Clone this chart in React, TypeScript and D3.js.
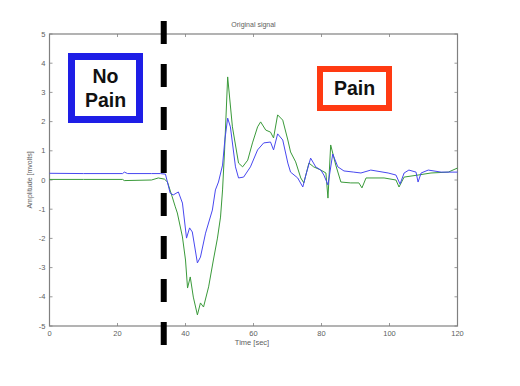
import React from "react";
import * as d3 from "d3";

const blueT = [0, 10, 21.5, 22, 23, 30, 32.6, 34.1, 35.5, 36.4, 37.9, 39.1, 40.3, 41.2, 42.0, 43.5, 44.4, 45.9, 47.9, 48.8, 49.7, 50.9, 51.6, 52.4, 53.2, 54.7, 55.6, 57.1, 59.1, 61.2, 63.0, 65.0, 65.9, 67.1, 68.6, 70.1, 70.9, 73.0, 74.5, 75.4, 76.8, 78.3, 79.8, 80.7, 81.9, 83.3, 84.8, 86.6, 89.5, 91.6, 94.5, 99.6, 101.9, 103.1, 104.3, 105.7, 107.8, 108.4, 109.3, 111.4, 115.2, 120];
const blueV = [0.23, 0.22, 0.22, 0.27, 0.22, 0.22, 0.22, 0.2, -0.45, -0.51, -0.41, -0.79, -1.99, -1.64, -1.78, -2.84, -2.64, -1.82, -1.03, -0.34, -0.07, 0.51, 1.4, 2.12, 1.82, 0.45, 0.07, 0.1, 0.45, 1.03, 1.27, 1.3, 1.03, 1.58, 1.37, 0.58, 0.27, 0.07, -0.24, 0.17, 0.75, 0.45, 0.34, 0.17, -0.17, 0.89, 0.45, 0.31, 0.27, 0.24, 0.34, 0.24, 0.17, -0.14, 0.24, 0.34, 0.27, -0.07, 0.24, 0.34, 0.27, 0.27];

const greenT = [0, 10, 21.5, 22, 30, 32, 33.8, 34.7, 36.1, 37.0, 37.6, 39.1, 40.0, 40.6, 41.4, 42.3, 43.5, 44.4, 45.3, 46.8, 48.2, 49.4, 50.3, 50.9, 51.5, 52.4, 53.8, 55.6, 56.8, 58.3, 59.7, 61.2, 62.1, 63.6, 65.0, 65.9, 67.1, 68.6, 70.1, 70.9, 72.4, 73.9, 74.8, 76.3, 77.7, 79.8, 81.3, 81.9, 82.7, 84.2, 85.7, 88.6, 91.0, 91.9, 93.1, 98.4, 101.9, 102.8, 104.3, 108.4, 112.2, 117.3, 120];
const greenV = [0.02, 0.02, 0.02, -0.02, 0.0, 0.07, 0.03, -0.07, -0.58, -0.92, -1.13, -1.95, -2.74, -3.7, -3.32, -4.01, -4.62, -4.21, -4.35, -3.66, -2.74, -1.99, -1.27, -0.34, 1.03, 3.53, 1.82, 0.58, 0.45, 0.68, 1.27, 1.82, 1.99, 1.71, 1.64, 1.44, 2.23, 2.05, 1.37, 0.96, 0.62, 0.07, -0.1, 0.58, 0.45, 0.34, 0.24, -0.62, 1.2, 0.51, -0.07, -0.1, -0.1, -0.27, 0.07, 0.07, 0.0, -0.24, 0.1, 0.17, 0.24, 0.27, 0.41];

const xTicks = [0, 20, 40, 60, 80, 100, 120];
const yTicks = [5, 4, 3, 2, 1, 0, -1, -2, -3, -4, -5];
const painOnset = 33.6;

export default function App() {
  const W = 520, H = 386;
  const x = d3.scaleLinear().domain([0, 120]).range([49.5, 457.5]);
  const y = d3.scaleLinear().domain([-5, 5]).range([326, 34]);
  const line = d3.line<[number, number]>().x((d) => x(d[0])).y((d) => y(d[1]));
  const blue = line(blueT.map((t, i) => [t, blueV[i]]) as [number, number][]) || "";
  const green = line(greenT.map((t, i) => [t, greenV[i]]) as [number, number][]) || "";
  const axisColor = "#808080";
  const textColor = "#606060";
  const font = "Liberation Sans, Arial, sans-serif";
  const x0 = x(0), x1 = x(120), y0 = y(-5), y1 = y(5);
  return (
    <svg width={W} height={H} style={{ position: "absolute", left: 0, top: 0, background: "#fff" }}>
      <rect x={0} y={0} width={W} height={H} fill="#fff" />
      <rect x={x0} y={y1} width={x1 - x0} height={y0 - y1} fill="none" stroke={axisColor} strokeWidth={1.2} />
      {xTicks.map((t) => (
        <g key={"x" + t}>
          <line x1={x(t)} x2={x(t)} y1={y0} y2={y0 - 3} stroke={axisColor} strokeWidth={0.8} />
          <line x1={x(t)} x2={x(t)} y1={y1} y2={y1 + 3} stroke={axisColor} strokeWidth={0.8} />
          <text x={x(t)} y={y0 + 10} fontSize={7.5} fill={textColor} textAnchor="middle" fontFamily={font}>{t}</text>
        </g>
      ))}
      {yTicks.map((t) => (
        <g key={"y" + t}>
          <line x1={x0} x2={x0 + 3} y1={y(t)} y2={y(t)} stroke={axisColor} strokeWidth={0.8} />
          <line x1={x1} x2={x1 - 3} y1={y(t)} y2={y(t)} stroke={axisColor} strokeWidth={0.8} />
          <text x={x0 - 4} y={y(t) + 2.5} fontSize={7.5} fill={textColor} textAnchor="end" fontFamily={font}>{t}</text>
        </g>
      ))}
      <text x={(x0 + x1) / 2} y={27} fontSize={7} fill={textColor} textAnchor="middle" fontFamily={font}>Original signal</text>
      <text x={252} y={345} fontSize={7.5} fill={textColor} textAnchor="middle" fontFamily={font}>Time [sec]</text>
      <text transform={`translate(32,${y(0)}) rotate(-90)`} fontSize={7} fill={textColor} textAnchor="middle" fontFamily={font}>Amplitude [mvolts]</text>
      <path d={green} fill="none" stroke="#3a9a3a" strokeWidth={1} strokeLinejoin="round" />
      <path d={blue} fill="none" stroke="#4848f0" strokeWidth={1} strokeLinejoin="round" />
      <line x1={x(painOnset)} x2={x(painOnset)} y1={21} y2={346} stroke="#000" strokeWidth={6} strokeDasharray="23 20" />
      <rect x={71.5} y={56.5} width={68} height={63} fill="#fff" stroke="#1e1ee6" strokeWidth={7} />
      <text x={105.5} y={83} fontSize={19.5} fontWeight="bold" textAnchor="middle" fontFamily={font} fill="#111">No</text>
      <text x={105.5} y={107} fontSize={19.5} fontWeight="bold" textAnchor="middle" fontFamily={font} fill="#111">Pain</text>
      <rect x={320} y={69} width={69} height={39} fill="#fff" stroke="#ff3a12" strokeWidth={6} />
      <text x={354.5} y={95} fontSize={19.5} fontWeight="bold" textAnchor="middle" fontFamily={font} fill="#111">Pain</text>
    </svg>
  );
}
